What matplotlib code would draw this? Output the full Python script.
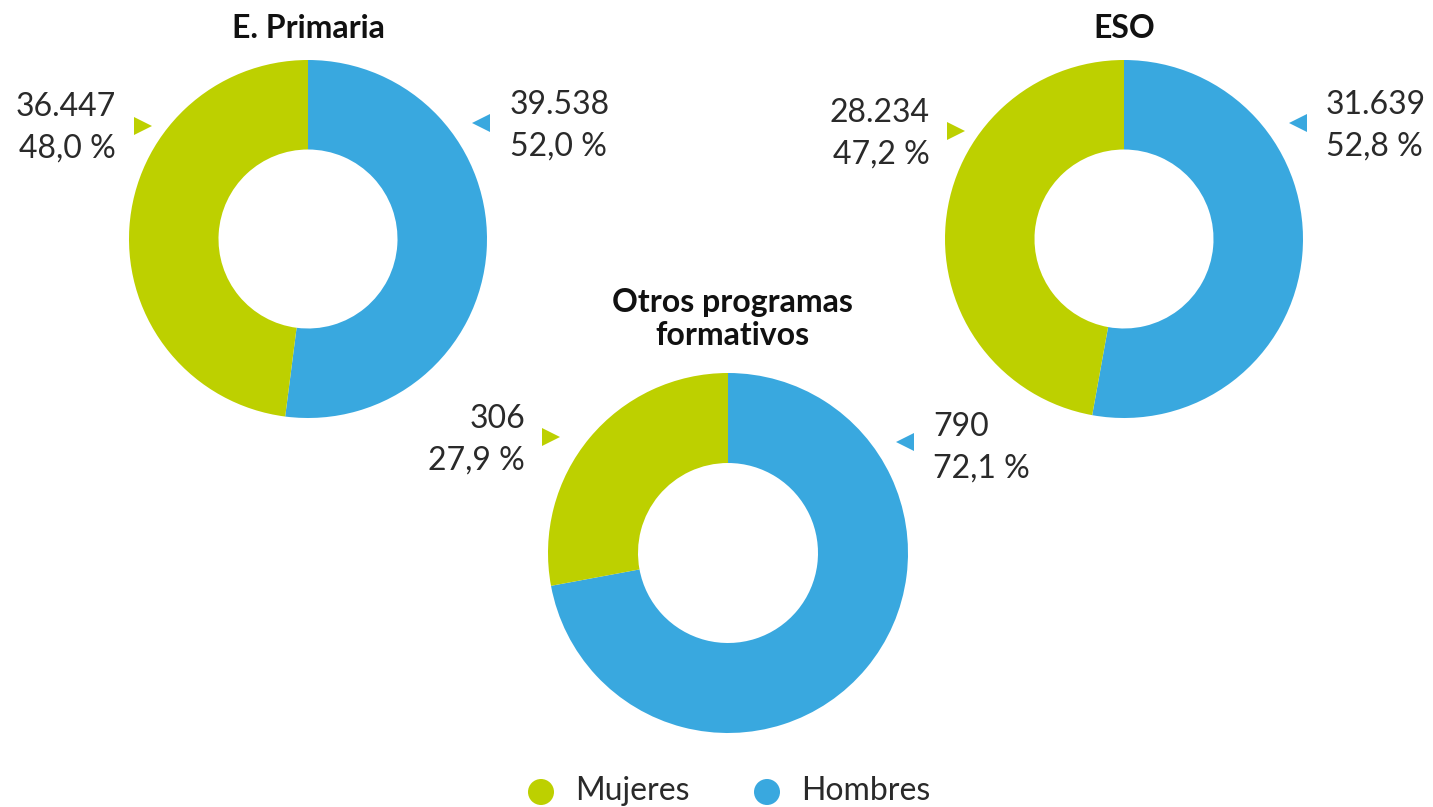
import matplotlib.pyplot as plt
from matplotlib.patches import Circle

W, H = 1433, 807

# Alumnado por sexo y etapa
etapas = ['E. Primaria', 'ESO', 'Otros programas\nformativos']
mujeres = [36447, 28234, 306]
hombres = [39538, 31639, 790]
series = ['Mujeres', 'Hombres']

verde = '#bdd000'
azul = '#39a8df'
texto = '#2a2a2a'

plt.rcParams['font.family'] = ['Lato', 'DejaVu Sans']

def miles(n):
    return f'{n:,}'.replace(',', '.')

def pct(p):
    return f'{p:.1f}'.replace('.', ',') + ' %'

fig = plt.figure(figsize=(W / 100, H / 100), dpi=100)
fig.patch.set_facecolor('white')

# capa de fondo en píxeles para textos y marcadores
bg = fig.add_axes([0, 0, 1, 1])
bg.set_xlim(0, W)
bg.set_ylim(H, 0)
bg.axis('off')

# (centro x, centro y, radio) de cada anillo, y posiciones de etiquetas
layout = [
    dict(c=(308, 239), r=179, title_y=28, lx=116, ly=107, gtri=(143, 126), rx=510, ry=105, btri=(481, 123)),
    dict(c=(1124, 239), r=179, title_y=28, lx=930, ly=113, gtri=(956, 131), rx=1326, ry=105, btri=(1298, 123)),
    dict(c=(728, 553), r=180, title_y=319, lx=525, ly=419, gtri=(551, 437), rx=933, ry=427, btri=(905, 442)),
]

for etapa, m, h, L in zip(etapas, mujeres, hombres, layout):
    cx, cy = L['c']
    r = L['r']
    ax = fig.add_axes([(cx - r) / W, 1 - (cy + r) / H, 2 * r / W, 2 * r / H])
    ax.pie([h, m], colors=[azul, verde], startangle=90, counterclock=False,
           radius=1, wedgeprops=dict(width=0.5, linewidth=0))
    ax.set_xlim(-1, 1)
    ax.set_ylim(-1, 1)
    ax.set_aspect('auto')

    tot = m + h
    bg.text(cx + 4 if '\n' in etapa else cx, L['title_y'], etapa, ha='center', va='center',
            fontsize=23, fontweight='bold', color='#111111', linespacing=1.15)

    bg.text(L['lx'], L['ly'], miles(m), ha='right', va='center', fontsize=23,
            color=texto)
    bg.text(L['lx'], L['ly'] + 42, pct(100 * m / tot), ha='right', va='center', fontsize=23,
            color=texto)
    bg.plot(*L['gtri'], marker='>', markersize=13, color=verde, markeredgewidth=0)

    bg.text(L['rx'], L['ry'], miles(h), ha='left', va='center', fontsize=23,
            color=texto)
    bg.text(L['rx'], L['ry'] + 42, pct(100 * h / tot), ha='left', va='center', fontsize=23,
            color=texto)
    bg.plot(*L['btri'], marker='<', markersize=13, color=azul, markeredgewidth=0)

# leyenda
for nombre, col, x in zip(series, [verde, azul], [541, 767]):
    bg.add_patch(Circle((x, 792), 13, color=col, linewidth=0))
    bg.text(x + 34, 791, nombre, ha='left', va='center', fontsize=23,
            color=texto)

fig.savefig('out.png', dpi=100, facecolor='white')
